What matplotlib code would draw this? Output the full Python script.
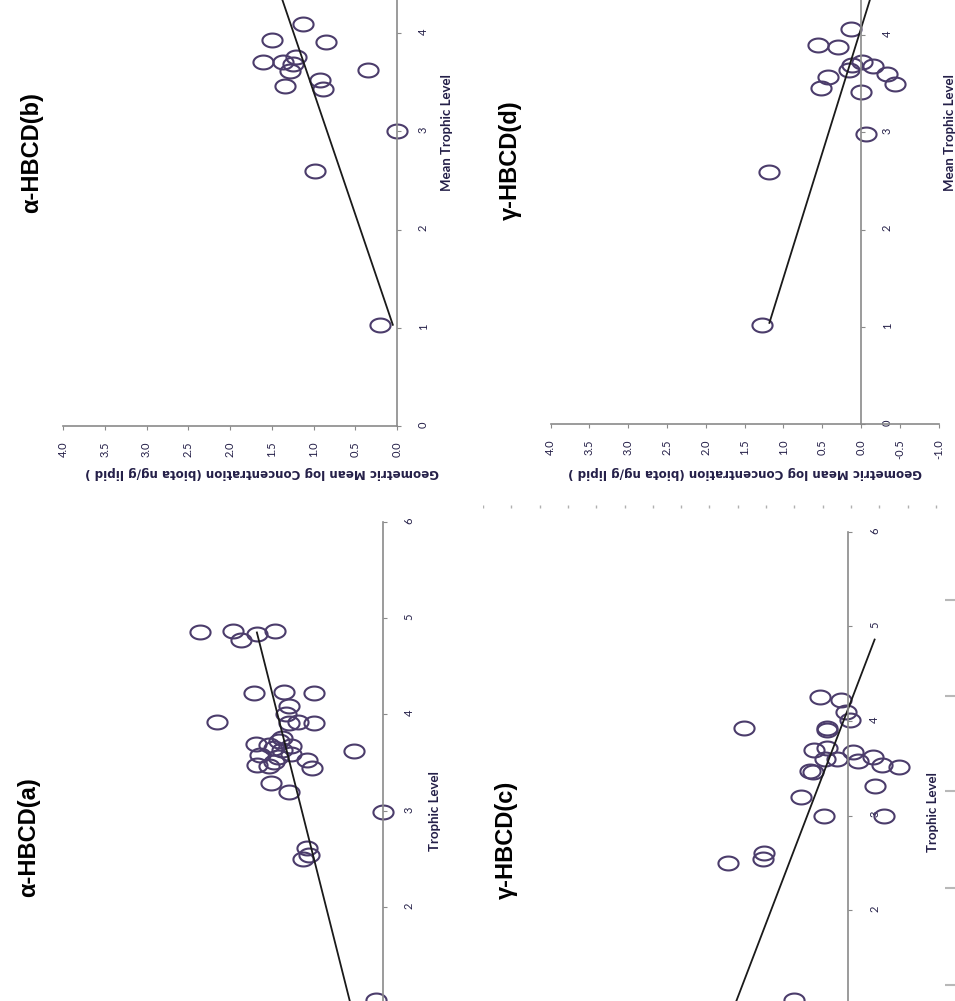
import numpy as np
import matplotlib
matplotlib.use("Agg")
import matplotlib.pyplot as plt
from matplotlib.path import Path

plt.rcParams['axes.unicode_minus'] = False

# ---- data (log concentration, trophic level) ----
a_conc = [2.19, 1.80, 1.70, 1.51, 1.29, 1.54, 1.18, 0.83, 1.12, 1.99,
          1.16, 1.12, 1.02, 0.83, 1.21, 1.24, 1.52, 1.36, 1.10, 1.31,
          1.21, 1.10, 1.47, 1.26, 1.31, 0.35, 0.91, 0.85, 1.51, 1.36,
          1.34, 1.12, 0.00, 0.91, 0.89, 0.96, 0.08]
a_tl = [4.85, 4.87, 4.77, 4.83, 4.87, 4.22, 4.23, 4.22, 4.09, 3.92,
        4.00, 3.91, 3.92, 3.91, 3.76, 3.72, 3.69, 3.68, 3.67, 3.65,
        3.63, 3.59, 3.58, 3.56, 3.51, 3.62, 3.53, 3.44, 3.47, 3.46,
        3.29, 3.20, 2.99, 2.61, 2.54, 2.50, 1.04]

b_conc = [0.20, 0.98, 0.00, 0.35, 1.34, 0.89, 0.92, 1.60, 1.37, 1.28,
          1.24, 1.21, 1.50, 0.85, 1.12]
b_tl = [1.03, 2.60, 3.00, 3.62, 3.46, 3.43, 3.52, 3.70, 3.70, 3.61,
        3.68, 3.76, 3.93, 3.91, 4.09]

c_conc = [1.34, 0.37, 0.09, 0.03, -0.02, 0.28, 0.27, 0.44, 0.27, 0.30,
          0.14, -0.06, -0.12, -0.32, -0.44, -0.65, 0.50, 0.45, 0.61, -0.35,
          -0.46, 0.32, 1.09, 1.10, 1.55, 0.70]
c_tl = [3.93, 4.25, 4.22, 4.09, 4.01, 3.92, 3.90, 3.69, 3.71, 3.60,
        3.60, 3.67, 3.58, 3.62, 3.53, 3.51, 3.47, 3.46, 3.20, 3.31,
        2.99, 2.99, 2.60, 2.54, 2.50, 1.05]

d_conc = [1.28, 1.18, -0.07, 0.00, 0.51, 0.42, 0.16, 0.12, -0.01, -0.15,
          -0.34, -0.44, 0.55, 0.29, 0.13]
d_tl = [1.02, 2.59, 2.98, 3.41, 3.45, 3.57, 3.64, 3.69, 3.72, 3.68,
        3.60, 3.50, 3.90, 3.88, 4.06]

# trend lines: conc = intercept + slope * TL, drawn over a TL range
a_fit = (0.099, 0.291, 1.00, 4.85)
b_fit = (-0.362, 0.400, 1.03, 4.45)
c_fit = (1.930, -0.467, 1.00, 4.86)
d_fit = (1.586, -0.390, 1.04, 4.45)

titles = ["α-HBCD(a)", "α-HBCD(b)", "γ-HBCD(c)", "γ-HBCD(d)"]
tl_labels = ["Trophic Level", "Mean Trophic Level", "Trophic Level", "Mean Trophic Level"]
conc_label = "Geometric Mean log Concentration (biota ng/g lipid )"
conc_ticks_pos = [0.0, 0.5, 1.0, 1.5, 2.0, 2.5, 3.0, 3.5, 4.0]
conc_ticks_neg = [-1.0, -0.5] + conc_ticks_pos

W, H = 955, 1001
fig = plt.figure(figsize=(W / 100, H / 100), dpi=100)

PURPLE = "#4b3c6b"
TXT = "#241f48"
GREY = "#8a8a8a"

# ellipse marker (circles were stretched in the scan)
t = np.linspace(0, 2 * np.pi, 60)
ell = Path(np.column_stack([1.45 * np.cos(t), np.sin(t)]), closed=True)


def fx(px):
    return px / W


def fy(py):
    return 1 - py / H


def panel(px0, sx, cmin, cmax, py0, sy, tmax, cticks, tticks, conc, tl, fit,
          show_conc_labels=True):
    left = px0 - cmax * sx
    right = px0 - cmin * sx
    top = py0 - tmax * sy
    ax = fig.add_axes([fx(left), fy(py0), (right - left) / W, (py0 - top) / H])
    ax.set_xlim(cmax, cmin)
    ax.set_ylim(0, tmax)
    ax.patch.set_visible(False)
    for s in ["top", "left"]:
        ax.spines[s].set_visible(False)
    ax.spines["right"].set_position(("data", 0))
    ax.spines["bottom"].set_position(("data", 0))
    for s in ["right", "bottom"]:
        ax.spines[s].set_color(GREY)
        ax.spines[s].set_linewidth(1.2)
    ax.yaxis.tick_right()
    ax.xaxis.tick_bottom()
    ax.set_xticks(cticks)
    if show_conc_labels:
        ax.set_xticklabels(["%.1f" % v for v in cticks])
    else:
        ax.set_xticklabels([])
    ax.set_yticks(tticks)
    ax.set_yticklabels(["%d" % v for v in tticks])
    ax.tick_params(axis="x", direction="out", length=3, color=GREY, pad=8,
                   labelrotation=90, labelsize=8, labelcolor=TXT)
    ax.tick_params(axis="y", direction="out", length=3, color=GREY, pad=12,
                   labelrotation=90, labelsize=8, labelcolor=TXT)
    for lab in ax.get_xticklabels() + ax.get_yticklabels():
        lab.set_family("Lato")
    ax.plot(conc, tl, linestyle="none", marker=ell, markersize=14.5,
            markerfacecolor="none", markeredgecolor=PURPLE, markeredgewidth=1.5,
            clip_on=False)
    b0, b1, t0, t1 = fit
    tt = np.array([t0, t1])
    ax.plot(b0 + b1 * tt, tt, color="#1a1a1a", linewidth=1.3, clip_on=False)
    return ax


panel(383, 83.5, 0, 4, 1100, 96.4, 6, conc_ticks_pos, range(2, 7), a_conc, a_tl, a_fit,
      show_conc_labels=False)
panel(397, 83.5, 0, 4, 426, 98.25, 4.5, conc_ticks_pos, range(0, 5), b_conc, b_tl, b_fit)
panel(848.3, 77.5, -1, 4, 1099.3, 94.6, 6, conc_ticks_neg, range(2, 7), c_conc, c_tl, c_fit,
      show_conc_labels=False)
panel(861, 77.6, -1, 4, 424, 97.25, 4.5, conc_ticks_neg, range(0, 5), d_conc, d_tl, d_fit)

# titles
title_pos = [(29, 837), (32, 153), (506, 840), (510, 160)]
for (x, y), s in zip(title_pos, titles):
    fig.text(fx(x), fy(y), s, rotation=90, ha="center", va="center",
             fontsize=17, fontweight="bold", family="Liberation Sans", color="black")

# trophic-level axis titles
tl_pos = [(435, 811), (447, 133), (933, 812), (950, 133)]
for (x, y), s in zip(tl_pos, tl_labels):
    fig.text(fx(x), fy(y), s, rotation=90, ha="center", va="center",
             fontsize=9.5, fontweight="bold", family="Lato", color=TXT)

# concentration axis titles (upside down in the scan)
for x in [262, 745]:
    fig.text(fx(x), fy(473), conc_label, rotation=180, ha="center", va="center",
             fontsize=8.6, fontweight="bold", family="DejaVu Sans", color=TXT)

# dotted divider between the panels
sep = fig.add_axes([fx(483), fy(510), (W - 483) / W, 6 / H])
sep.axis("off")
sep.set_xlim(0, W - 483)
sep.set_ylim(0, 1)
sep.vlines(np.arange(0, W - 483, 28.3), 0.25, 0.75, color="#b0b0b0", linewidth=1)

# grey stubs of a neighbouring chart at the right edge
stub = fig.add_axes([fx(945), 0, 10 / W, 1])
stub.axis("off")
stub.set_xlim(0, 1)
stub.set_ylim(H, 0)
stub.hlines([600, 696, 791, 888, 985], 0, 1, color="#b8b8b8", linewidth=1.5)

fig.savefig("out.png", dpi=100)
